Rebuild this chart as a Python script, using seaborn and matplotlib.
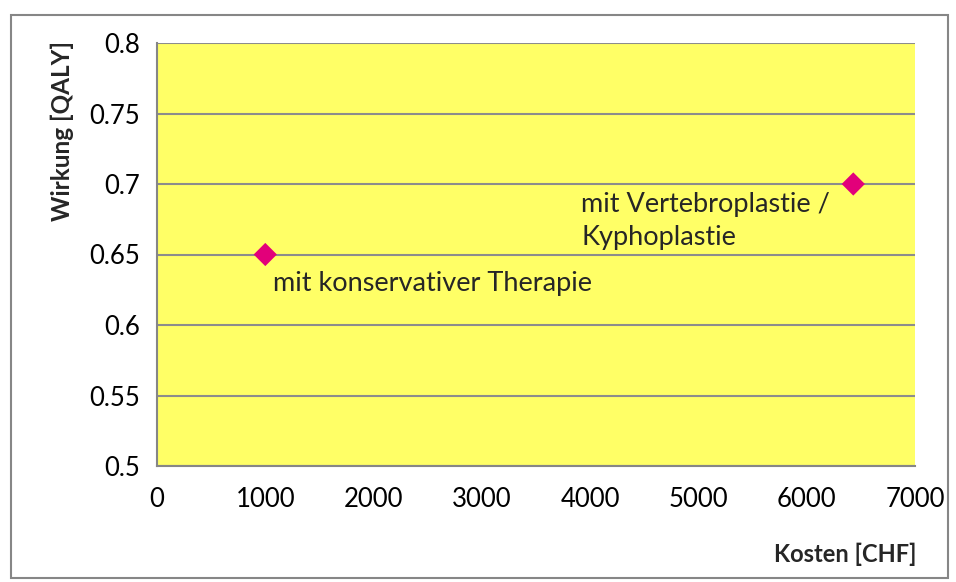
import matplotlib
matplotlib.use('Agg')
import matplotlib.pyplot as plt
import seaborn as sns
import pandas as pd
from matplotlib.patches import Rectangle

# data
labels = ['mit konservativer Therapie', 'mit Vertebroplastie /\nKyphoplastie']
kosten = [1000, 6430]
wirkung = [0.65, 0.70]

x_ticks = [0, 1000, 2000, 3000, 4000, 5000, 6000, 7000]
y_ticks = [0.5, 0.55, 0.6, 0.65, 0.7, 0.75, 0.8]
y_ticklabels = ['0.5', '0.55', '0.6', '0.65', '0.7', '0.75', '0.8']

df = pd.DataFrame({'Kosten': kosten, 'Wirkung': wirkung, 'Label': labels})

sns.set_style('white')
plt.rcParams['font.family'] = ['Lato', 'DejaVu Sans']

fig = plt.figure(figsize=(9.56, 5.82), dpi=100)
ax = fig.add_axes([157/956, 1-466/582, (915-157)/956, (466-43)/582])
ax.set_facecolor('#FFFF66')

sns.scatterplot(data=df, x='Kosten', y='Wirkung', marker='D', s=140,
                color='#E2007A', edgecolor='none', zorder=5, ax=ax)

ax.set_xlim(0, 7000)
ax.set_ylim(0.5, 0.8)
ax.set_xticks(x_ticks)
ax.set_yticks(y_ticks)
ax.set_yticklabels(y_ticklabels)
ax.tick_params(axis='both', labelsize=18.5, colors='#868686', labelcolor='black',
               length=6, width=1.3, direction='out')
ax.tick_params(axis='x', pad=9)
ax.tick_params(axis='y', pad=6)
ax.grid(axis='y', color='#8C8C8C', linewidth=1.5)
ax.set_axisbelow(True)
for side in ['top', 'right']:
    ax.spines[side].set_visible(False)
for side in ['left', 'bottom']:
    ax.spines[side].set_color('#868686')
    ax.spines[side].set_linewidth(1.5)
ax.set_xlabel('')
ax.set_ylabel('')

# point labels
ax.annotate(labels[0], (kosten[0], wirkung[0]), xytext=(8, -17),
            textcoords='offset pixels', ha='left', va='top', fontsize=19.5)
ax.annotate(labels[1], (kosten[1], wirkung[1]), xytext=(-272, -8),
            textcoords='offset pixels', ha='left', va='top', fontsize=19.5,
            linespacing=1.42)

fig.text(62/956, 1-131/582, 'Wirkung [QALY]', rotation=90, ha='center',
         va='center', fontsize=17.5, fontweight='bold')
fig.text(916/956, 1-554/582, 'Kosten [CHF]', ha='right', va='center',
         fontsize=17, fontweight='bold')

fig.patches.append(Rectangle((11/956, 1-578/582), (948-11)/956, (578-15)/582,
                             transform=fig.transFigure, fill=False,
                             edgecolor='#868686', linewidth=1.5))

fig.savefig('out.png', dpi=100)
